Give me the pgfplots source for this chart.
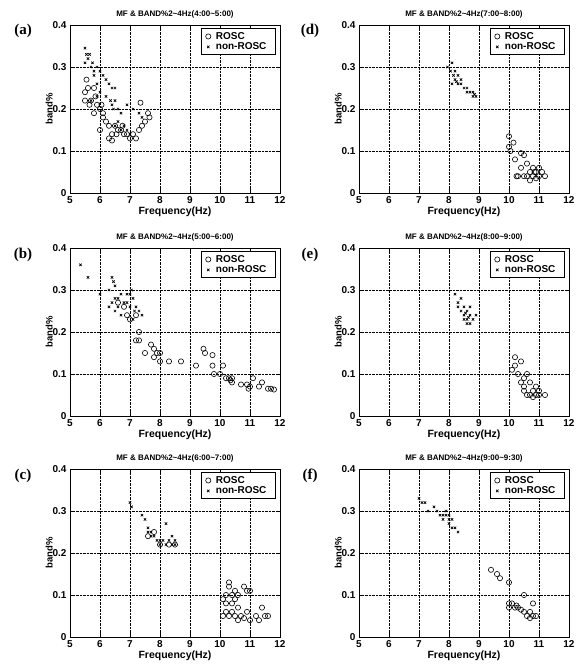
\documentclass[border=0pt]{standalone}
\usepackage{pgfplots}
\pgfplotsset{compat=1.18}
\usepackage{fontspec}
\setmainfont{Liberation Sans}
\newfontfamily\serifbf{Liberation Serif}
\tikzset{plab/.style={font=\serifbf\fontsize{15}{16}\selectfont\bfseries}}
\pgfplotsset{
  panel/.style={
    scale only axis, width=210pt, height=168pt,
    anchor=north west,
    xmin=5, xmax=12, ymin=0, ymax=0.4,
    xtick={5,...,12}, ytick={0,0.1,0.2,0.3,0.4},
    yticklabels={0,0.1,0.2,0.3,0.4},
    grid=major, major grid style={black, densely dotted, line width=0.7pt},
    axis line style={black, line width=0.7pt},
    tick style={black},
    tick align=inside,
    ticklabel style={font=\fontsize{10}{11}\selectfont\bfseries},
    /pgf/number format/assume math mode=true,
    xlabel={Frequency(Hz)}, ylabel={band\%},
    xlabel style={font=\fontsize{10.5}{11}\selectfont\bfseries, yshift=4pt},
    ylabel style={font=\fontsize{9.5}{10}\selectfont\bfseries, yshift=-7pt},
    title style={font=\fontsize{8}{9}\selectfont\bfseries, yshift=-3pt},
    legend style={at={(0.98,0.98)}, anchor=north east, draw=black, line width=0.7pt, font=\fontsize{10}{11}\selectfont\bfseries,
      inner xsep=4pt, inner ysep=1.5pt, row sep=-2pt, cells={anchor=west}, nodes={inner xsep=5pt}},
    legend cell align=left,
  },
  rosc/.style={only marks, mark=o, mark size=2.6pt, mark options={black, line width=0.6pt}},
  nrosc/.style={only marks, mark=x, mark size=1.7pt, mark options={black, line width=0.7pt}},
}
\begin{document}
\begin{tikzpicture}
\useasboundingbox (0,0) rectangle (578pt,-666pt);
% (a)
\begin{axis}[panel, at={(70pt,-25pt)}, title={MF \& BAND\%2\textasciitilde4Hz(4:00\textasciitilde5:00)}]
\addplot[rosc] coordinates {(5.5,0.24)(5.55,0.27)(5.5,0.22)(5.6,0.25)(5.7,0.22)(5.8,0.25)(5.8,0.19)(5.9,0.21)(6.0,0.15)(6.0,0.2)(6.1,0.19)(6.1,0.18)(6.2,0.17)(6.3,0.16)(6.3,0.13)(6.4,0.125)(6.4,0.14)(6.5,0.16)(6.6,0.15)(6.7,0.15)(6.8,0.14)(6.9,0.14)(7.0,0.13)(7.2,0.13)(7.3,0.15)(7.35,0.215)(7.4,0.16)(7.5,0.17)(7.6,0.19)(7.65,0.18)(5.65,0.21)(5.85,0.23)(6.05,0.21)(6.55,0.14)(6.75,0.16)(7.1,0.14)};
\addlegendentry{ROSC}
\addplot[nrosc] coordinates {(5.5,0.345)(5.55,0.33)(5.6,0.32)(5.5,0.31)(5.7,0.3)(5.8,0.29)(5.9,0.3)(6.0,0.29)(6.1,0.28)(6.2,0.27)(6.3,0.26)(6.4,0.25)(6.5,0.25)(5.8,0.28)(5.9,0.26)(6.0,0.24)(6.4,0.21)(6.5,0.22)(6.6,0.2)(6.7,0.19)(6.9,0.21)(7.1,0.2)(7.3,0.19)(7.4,0.18)(5.9,0.23)(5.7,0.22)(6.2,0.23)(6.6,0.17)(6.8,0.16)(6.5,0.16)(5.65,0.33)(5.75,0.31)(6.35,0.22)(6.45,0.2)(6.7,0.15)(6.9,0.15)(7.0,0.14)};
\addlegendentry{non-ROSC}
\end{axis}
\node[plab] at (23pt,-31pt) {(a)};
% (d)
\begin{axis}[panel, at={(359pt,-25pt)}, title={MF \& BAND\%2\textasciitilde4Hz(7:00\textasciitilde8:00)}]
\addplot[rosc] coordinates {(10.0,0.135)(10.0,0.11)(10.05,0.1)(10.15,0.12)(10.2,0.08)(10.3,0.04)(10.4,0.095)(10.5,0.09)(10.4,0.06)(10.5,0.04)(10.6,0.07)(10.7,0.05)(10.8,0.04)(10.8,0.06)(10.9,0.05)(11.0,0.06)(11.0,0.04)(11.1,0.05)(11.2,0.04)(10.6,0.04)(10.7,0.03)(10.9,0.035)(10.25,0.04)(10.85,0.05)};
\addlegendentry{ROSC}
\addplot[nrosc] coordinates {(7.95,0.3)(8.1,0.31)(8.05,0.29)(8.15,0.28)(8.2,0.27)(8.3,0.28)(8.3,0.26)(8.4,0.26)(8.5,0.25)(8.6,0.25)(8.7,0.24)(8.8,0.24)(8.9,0.23)(8.8,0.23)(8.2,0.29)(8.4,0.27)(8.6,0.24)(8.1,0.26)(8.25,0.265)(8.85,0.235)};
\addlegendentry{non-ROSC}
\end{axis}
\node[plab] at (310pt,-31pt) {(d)};
% (b)
\begin{axis}[panel, at={(70pt,-248pt)}, title={MF \& BAND\%2\textasciitilde4Hz(5:00\textasciitilde6:00)}]
\addplot[rosc] coordinates {(6.9,0.24)(7.0,0.23)(7.2,0.18)(7.3,0.2)(7.3,0.18)(7.5,0.15)(7.7,0.17)(7.8,0.16)(7.8,0.14)(7.9,0.15)(8.0,0.13)(8.0,0.15)(8.3,0.13)(8.7,0.13)(9.2,0.12)(9.45,0.16)(9.5,0.15)(9.75,0.145)(9.75,0.12)(9.8,0.1)(10.0,0.1)(10.1,0.12)(10.2,0.09)(10.3,0.09)(10.4,0.09)(10.4,0.08)(10.7,0.075)(10.9,0.075)(11.0,0.07)(11.1,0.09)(11.3,0.07)(11.4,0.08)(11.6,0.065)(11.7,0.065)(11.8,0.063)(6.6,0.27)(6.8,0.26)(7.2,0.24)(10.35,0.085)(10.95,0.065)};
\addlegendentry{ROSC}
\addplot[nrosc] coordinates {(5.35,0.36)(5.6,0.33)(6.0,0.29)(6.3,0.3)(6.4,0.33)(6.5,0.31)(6.3,0.26)(6.4,0.27)(6.5,0.25)(6.6,0.28)(6.7,0.29)(6.8,0.27)(6.9,0.29)(7.0,0.29)(7.1,0.28)(7.2,0.26)(7.3,0.25)(7.4,0.24)(7.1,0.23)(6.6,0.26)(7.0,0.26)(6.7,0.24)(6.9,0.27)(7.05,0.3)(6.5,0.28)(6.45,0.32)(7.15,0.25)};
\addlegendentry{non-ROSC}
\end{axis}
\node[plab] at (23pt,-255pt) {(b)};
% (e)
\begin{axis}[panel, at={(359pt,-248pt)}, title={MF \& BAND\%2\textasciitilde4Hz(8:00\textasciitilde9:00)}]
\addplot[rosc] coordinates {(10.1,0.11)(10.2,0.14)(10.2,0.12)(10.3,0.1)(10.4,0.13)(10.4,0.08)(10.5,0.09)(10.5,0.06)(10.6,0.1)(10.7,0.08)(10.7,0.05)(10.8,0.06)(10.9,0.07)(11.0,0.05)(11.0,0.06)(11.2,0.05)(10.6,0.05)(10.9,0.05)(10.5,0.07)(10.8,0.045)};
\addlegendentry{ROSC}
\addplot[nrosc] coordinates {(8.2,0.29)(8.3,0.27)(8.4,0.28)(8.5,0.26)(8.4,0.25)(8.5,0.24)(8.6,0.25)(8.6,0.23)(8.7,0.24)(8.7,0.22)(8.8,0.23)(8.9,0.24)(8.6,0.22)(8.5,0.23)(8.7,0.26)(8.3,0.26)(8.55,0.245)(8.65,0.235)};
\addlegendentry{non-ROSC}
\end{axis}
\node[plab] at (310pt,-255pt) {(e)};
% (c)
\begin{axis}[panel, at={(70pt,-469pt)}, title={MF \& BAND\%2\textasciitilde4Hz(6:00\textasciitilde7:00)}]
\addplot[rosc] coordinates {(7.6,0.24)(7.8,0.25)(8.0,0.22)(8.3,0.22)(8.5,0.22)(10.1,0.09)(10.2,0.1)(10.3,0.12)(10.3,0.13)(10.4,0.1)(10.4,0.08)(10.5,0.11)(10.5,0.09)(10.6,0.1)(10.6,0.07)(10.2,0.06)(10.1,0.05)(10.3,0.05)(10.5,0.05)(10.7,0.05)(10.8,0.12)(10.9,0.11)(11.0,0.11)(11.0,0.04)(11.2,0.05)(11.3,0.04)(11.4,0.07)(11.5,0.05)(11.6,0.05)(10.2,0.08)(10.4,0.06)(10.6,0.04)(10.8,0.045)(10.9,0.06)};
\addlegendentry{ROSC}
\addplot[nrosc] coordinates {(7.0,0.32)(7.05,0.31)(7.4,0.29)(7.5,0.28)(7.6,0.26)(7.6,0.25)(7.7,0.25)(7.8,0.24)(7.9,0.23)(8.0,0.22)(8.1,0.23)(8.2,0.27)(8.3,0.23)(8.4,0.24)(8.5,0.22)(8.4,0.22)(8.2,0.22)(7.7,0.24)(8.0,0.23)(8.5,0.23)};
\addlegendentry{non-ROSC}
\end{axis}
\node[plab] at (23pt,-476pt) {(c)};
% (f)
\begin{axis}[panel, at={(359pt,-469pt)}, title={MF \& BAND\%2\textasciitilde4Hz(9:00\textasciitilde9:30)}]
\addplot[rosc] coordinates {(9.4,0.16)(9.6,0.15)(9.7,0.14)(10.0,0.13)(10.0,0.08)(10.0,0.07)(10.1,0.08)(10.2,0.07)(10.3,0.07)(10.4,0.065)(10.5,0.1)(10.5,0.06)(10.6,0.05)(10.7,0.06)(10.8,0.08)(10.8,0.05)(10.9,0.05)(10.7,0.045)(10.25,0.075)};
\addlegendentry{ROSC}
\addplot[nrosc] coordinates {(7.0,0.33)(7.1,0.32)(7.2,0.32)(7.3,0.3)(7.5,0.31)(7.6,0.3)(7.7,0.29)(7.8,0.28)(7.9,0.3)(8.0,0.28)(8.0,0.27)(8.1,0.28)(8.1,0.26)(8.2,0.26)(8.3,0.25)(7.9,0.29)(8.0,0.29)(7.8,0.29)};
\addlegendentry{non-ROSC}
\end{axis}
\node[plab] at (310pt,-476pt) {(f)};
\end{tikzpicture}
\end{document}
